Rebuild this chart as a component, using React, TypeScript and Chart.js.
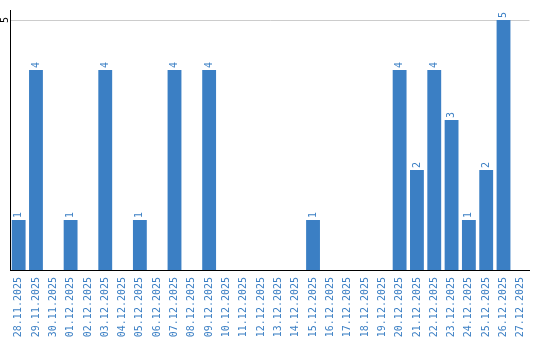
import React, { useEffect, useRef } from "react";
import { Chart, registerables } from "chart.js";

Chart.register(...registerables);

const categories = [
  "28.11.2025", "29.11.2025", "30.11.2025", "01.12.2025", "02.12.2025",
  "03.12.2025", "04.12.2025", "05.12.2025", "06.12.2025", "07.12.2025",
  "08.12.2025", "09.12.2025", "10.12.2025", "11.12.2025", "12.12.2025",
  "13.12.2025", "14.12.2025", "15.12.2025", "16.12.2025", "17.12.2025",
  "18.12.2025", "19.12.2025", "20.12.2025", "21.12.2025", "22.12.2025",
  "23.12.2025", "24.12.2025", "25.12.2025", "26.12.2025", "27.12.2025",
];
const counts = [1, 4, 0, 1, 0, 4, 0, 1, 0, 4, 0, 4, 0, 0, 0, 0, 0, 1, 0, 0, 0, 0, 4, 2, 4, 3, 1, 2, 5, 0];
const yTicks = [5];

const BLUE = "#3b7fc4";
const FONT = "DejaVu Sans Mono";

const labelPlugin = {
  id: "labels",
  afterDatasetsDraw(chart: any) {
    const ctx = chart.ctx;
    const meta = chart.getDatasetMeta(0);
    ctx.save();
    ctx.font = `10px "${FONT}"`;
    ctx.fillStyle = BLUE;
    ctx.textAlign = "left";
    ctx.textBaseline = "middle";
    meta.data.forEach((bar: any, i: number) => {
      const v = counts[i];
      if (!v) return;
      ctx.save();
      ctx.translate(bar.x, bar.y - 2);
      ctx.rotate(-Math.PI / 2);
      ctx.fillText(String(v), 0, 0);
      ctx.restore();
    });
    const ys = chart.scales.y;
    ctx.fillStyle = "#000";
    ctx.textAlign = "center";
    yTicks.forEach((t) => {
      ctx.save();
      ctx.translate(ys.left + 5, ys.getPixelForValue(t));
      ctx.rotate(-Math.PI / 2);
      ctx.fillText(String(t), 0, 0);
      ctx.restore();
    });
    ctx.restore();
  },
};

export default function App() {
  const ref = useRef<HTMLCanvasElement>(null);
  useEffect(() => {
    document.body.style.margin = "0";
    const chart = new Chart(ref.current!, {
      type: "bar",
      data: {
        labels: categories,
        datasets: [
          {
            data: counts,
            backgroundColor: BLUE,
            categoryPercentage: 1,
            barPercentage: 0.8,
          },
        ],
      },
      options: {
        animation: false,
        responsive: false,
        layout: { padding: { top: 10, right: 10, bottom: 0, left: 0 } },
        plugins: { legend: { display: false }, tooltip: { enabled: false } },
        scales: {
          x: {
            afterFit: (s: any) => {
              s.height = 70;
            },
            grid: { display: false, drawTicks: false },
            border: { display: true, color: "#000", width: 1 },
            ticks: {
              color: BLUE,
              font: { family: FONT, size: 10 },
              minRotation: 90,
              maxRotation: 90,
              autoSkip: false,
              padding: 7,
            },
          },
          y: {
            min: 0,
            max: 5.2,
            afterBuildTicks: (s: any) => {
              s.ticks = yTicks.map((v) => ({ value: v }));
            },
            afterFit: (s: any) => {
              s.width = 10;
            },
            grid: { color: "#cccccc", drawTicks: false },
            border: { display: true, color: "#000", width: 1 },
            ticks: { display: false },
          },
        },
      },
      plugins: [labelPlugin],
    });
    return () => chart.destroy();
  }, []);
  return <canvas ref={ref} width={540} height={340} />;
}
